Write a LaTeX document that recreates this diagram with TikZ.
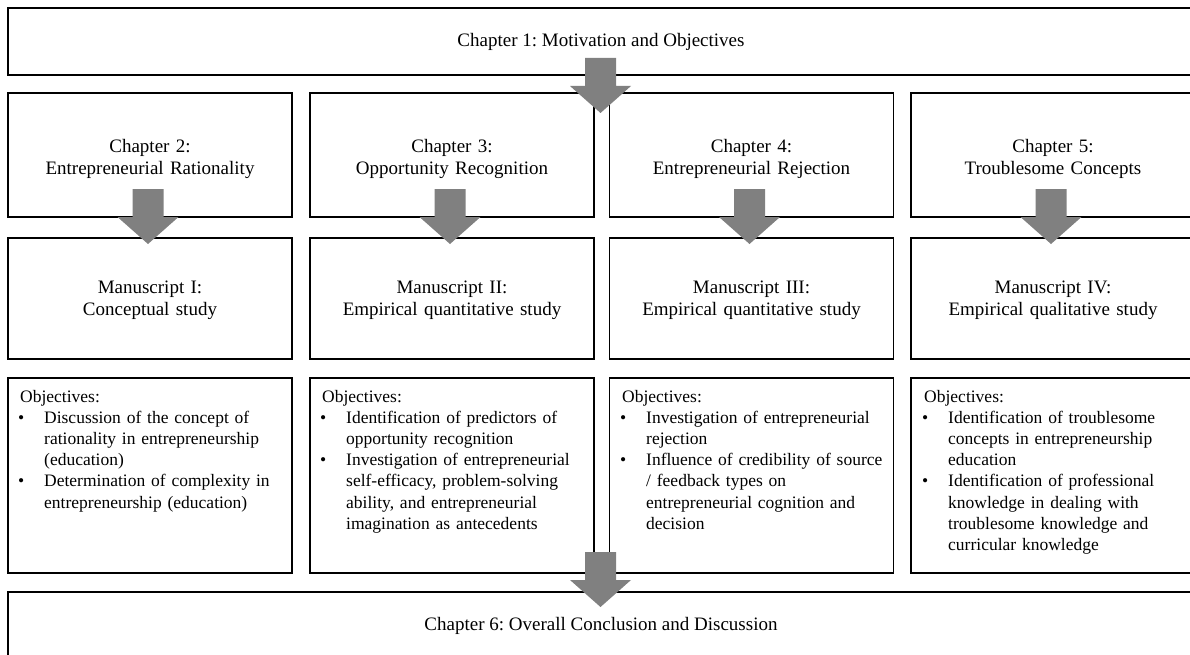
\documentclass[tikz,border=0pt]{standalone}
\usepackage{fontspec}
\setmainfont{Liberation Serif}
\usetikzlibrary{calc}
\definecolor{arrowgray}{RGB}{128,128,128}
\newcommand\objbullet{\makebox[24pt][l]{\hspace*{-2pt}\textbullet}}
\newcommand\objindent{\hspace*{24pt}}
\frenchspacing
\begin{document}
\begin{tikzpicture}[x=1pt,y=-1pt,
  box/.style={draw=black, line width=1.5pt, fill=white, inner sep=0pt, outer sep=0pt},
  colbox/.style={box, minimum width=284pt},
  chbox/.style={colbox, minimum height=124pt},
  msbox/.style={colbox, minimum height=121pt},
  objbox/.style={colbox, minimum height=195pt},
  wide/.style={box, minimum width=1186pt},
  head/.style={font=\fontsize{19}{22}\selectfont, align=center, text width=280pt, inner sep=0pt, anchor=base},
  single/.style={font=\fontsize{19}{22}\selectfont, inner sep=0pt, anchor=base},
  obj/.style={font=\fontsize{17.5}{21.2}\selectfont, align=left, text width=300pt, inner sep=0pt, anchor=base west},
  blockarrow/.pic={\fill[arrowgray] (-15.5,-28) -- (15.5,-28) -- (15.5,0) -- (30.5,0) -- (0,27) -- (-30.5,0) -- (-15.5,0) -- cycle;}
]
\useasboundingbox (0,0) rectangle (1190,655);
\clip (0,0) rectangle (1190,655);

% boxes
\node[wide, minimum height=67pt] (top) at (601,41.5) {};
\node[chbox] (c2) at (150,155) {};
\node[chbox] (c3) at (452,155) {};
\node[chbox] (c4) at (751.5,155) {};
\node[chbox] (c5) at (1053,155) {};
\node[msbox] (m1) at (150,298.5) {};
\node[msbox] (m2) at (452,298.5) {};
\node[msbox] (m3) at (751.5,298.5) {};
\node[msbox] (m4) at (1053,298.5) {};
\node[objbox] (o1) at (150,475.5) {};
\node[objbox] (o2) at (452,475.5) {};
\node[objbox] (o3) at (751.5,475.5) {};
\node[objbox] (o4) at (1053,475.5) {};
\node[wide, minimum height=108pt] (bot) at (601,646) {};

% texts
\node[single] (toptext) at (601,47) {Chapter 1: Motivation and Objectives};
\node[head] (c2t) at (150,153) {Chapter 2:\\Entrepreneurial Rationality};
\node[head] (c3t) at (452,153) {Chapter 3:\\Opportunity Recognition};
\node[head] (c4t) at (751.5,153) {Chapter 4:\\Entrepreneurial Rejection};
\node[head] (c5t) at (1053,153) {Chapter 5:\\Troublesome Concepts};
\node[head] (m1t) at (150,293.5) {Manuscript I:\\Conceptual study};
\node[head] (m2t) at (452,293.5) {Manuscript II:\\Empirical quantitative study};
\node[head] (m3t) at (751.5,293.5) {Manuscript III:\\Empirical quantitative study};
\node[head] (m4t) at (1053,293.5) {Manuscript IV:\\Empirical qualitative study};

\node[obj] (o1t) at (20,402) {Objectives:\\
\objbullet Discussion of the concept of\\
\objindent rationality in entrepreneurship\\
\objindent (education)\\
\objbullet Determination of complexity in\\
\objindent entrepreneurship (education)};
\node[obj] (o2t) at (322,402) {Objectives:\\
\objbullet Identification of predictors of\\
\objindent opportunity recognition\\
\objbullet Investigation of entrepreneurial\\
\objindent self-efficacy, problem-solving\\
\objindent ability, and entrepreneurial\\
\objindent imagination as antecedents};
\node[obj] (o3t) at (622,402) {Objectives:\\
\objbullet Investigation of entrepreneurial\\
\objindent rejection\\
\objbullet Influence of credibility of source\\
\objindent / feedback types on\\
\objindent entrepreneurial cognition and\\
\objindent decision};
\node[obj] (o4t) at (924,402) {Objectives:\\
\objbullet Identification of troublesome\\
\objindent concepts in entrepreneurship\\
\objindent education\\
\objbullet Identification of professional\\
\objindent knowledge in dealing with\\
\objindent troublesome knowledge and\\
\objindent curricular knowledge};

\node[single] (bottext) at (601,630) {Chapter 6: Overall Conclusion and Discussion};

% block arrows
\coordinate (a0) at ($(top.south)+(-0.5,11)$);
\coordinate (a1) at ($(c2.south)+(-2,0)$);
\coordinate (a2) at ($(c3.south)+(-2,0)$);
\coordinate (a3) at ($(c4.south)+(-2,0)$);
\coordinate (a4) at ($(c5.south)+(-2,0)$);
\coordinate (a5) at ($(bot.north)+(-0.5,-12)$);
\foreach \a in {a0,a1,a2,a3,a4,a5} {\pic at (\a) {blockarrow};}
\end{tikzpicture}
\end{document}
